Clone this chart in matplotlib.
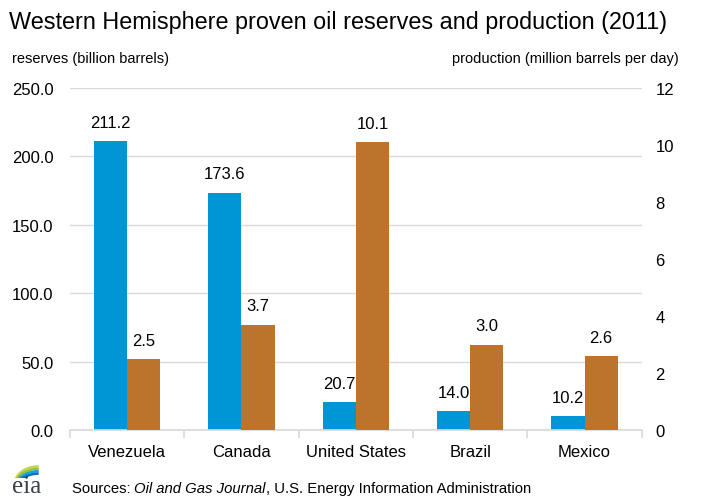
import matplotlib
matplotlib.use("Agg")
import matplotlib.pyplot as plt
import numpy as np
from matplotlib.patches import Arc

plt.rcParams['font.family'] = ['Liberation Sans', 'DejaVu Sans']

countries = ["Venezuela", "Canada", "United States", "Brazil", "Mexico"]
reserves = [211.2, 173.6, 20.7, 14.0, 10.2]
production = [2.5, 3.7, 10.1, 3.0, 2.6]
left_ticks = [0, 50, 100, 150, 200, 250]
right_ticks = [0, 2, 4, 6, 8, 10, 12]

blue = "#0096D6"
orange = "#BC742C"
grid_c = "#D9D9D9"

fig = plt.figure(figsize=(7.17, 5.02), dpi=100)
ax = fig.add_axes([0.0976, 0.1414, 0.7974, 0.6813])
ax2 = ax.twinx()

x = np.arange(len(countries))
w = 0.29
ax.bar(x - w / 2, reserves, width=w, color=blue, zorder=3)
ax2.bar(x + w / 2, production, width=w, color=orange, zorder=3)

ax.set_xlim(-0.5, len(countries) - 0.5)
ax.set_ylim(0, 250)
ax2.set_ylim(0, 12)
ax.set_yticks(left_ticks)
ax.set_yticklabels([f"{t:.1f}" for t in left_ticks], fontsize=12)
ax2.set_yticks(right_ticks)
ax2.set_yticklabels([str(t) for t in right_ticks], fontsize=12)

ax.yaxis.grid(True, color=grid_c, linewidth=1, zorder=0)
ax.set_axisbelow(True)
for a in (ax, ax2):
    for s in ("top", "right", "left"):
        a.spines[s].set_visible(False)
    a.spines["bottom"].set_visible(False)
    a.tick_params(axis="y", length=0)
ax.tick_params(axis="y", pad=12)
ax2.tick_params(axis="y", pad=10)

# bottom axis line with category separators
ax.axhline(0, color=grid_c, linewidth=1.2, zorder=4, clip_on=False)
ax.set_xticks(np.arange(-0.5, len(countries), 1.0), minor=True)
ax.tick_params(axis="x", which="minor", length=6, color=grid_c, width=1.2)
ax.set_xticks(x)
ax.set_xticklabels(countries, fontsize=12)
ax.tick_params(axis="x", which="major", length=0, pad=10)

for xi, v in zip(x, reserves):
    ax.annotate(f"{v:.1f}", (xi - w / 2, v), xytext=(0, 8), textcoords="offset points",
                ha="center", va="bottom", fontsize=12)
for xi, v in zip(x, production):
    ax2.annotate(f"{v:.1f}", (xi + w / 2, v), xytext=(0, 8), textcoords="offset points",
                 ha="center", va="bottom", fontsize=12)

fig.text(0.012, 0.955, "Western Hemisphere proven oil reserves and production (2011)",
         fontsize=16.8, ha="left", va="center")
fig.text(0.017, 0.883, "reserves (billion barrels)", fontsize=10.5, ha="left", va="center")
fig.text(0.946, 0.883, "production (million barrels per day)", fontsize=10.5, ha="right", va="center")

src = fig.text(0.1, 0.025, "Sources: ", fontsize=10.7, ha="left", va="center")
fig.canvas.draw()
r = fig.canvas.get_renderer()
bb = src.get_window_extent(r)
t2 = fig.text(bb.x1 / fig.bbox.width, 0.025, "Oil and Gas Journal", fontsize=10.7,
              style="italic", ha="left", va="center")
bb2 = t2.get_window_extent(r)
fig.text(bb2.x1 / fig.bbox.width, 0.025, ", U.S. Energy Information Administration",
         fontsize=10.7, ha="left", va="center")

# eia logo
fig.text(0.037, 0.03, "eia", fontsize=18, family="Liberation Serif", color="#3A3F4A",
         ha="center", va="center")
lax = fig.add_axes([0.018, 0.045, 0.045, 0.04])
lax.set_xlim(0, 1)
lax.set_ylim(0, 1)
lax.axis("off")
for i, c in enumerate(["#C8D645", "#8DC63F", "#1BA1D8", "#0072BC"]):
    lax.add_patch(Arc((0.8, -0.3 - 0.12 * i), 1.5, 1.8, theta1=90, theta2=175,
                      color=c, linewidth=1.8))

fig.savefig("out.png", dpi=100)
